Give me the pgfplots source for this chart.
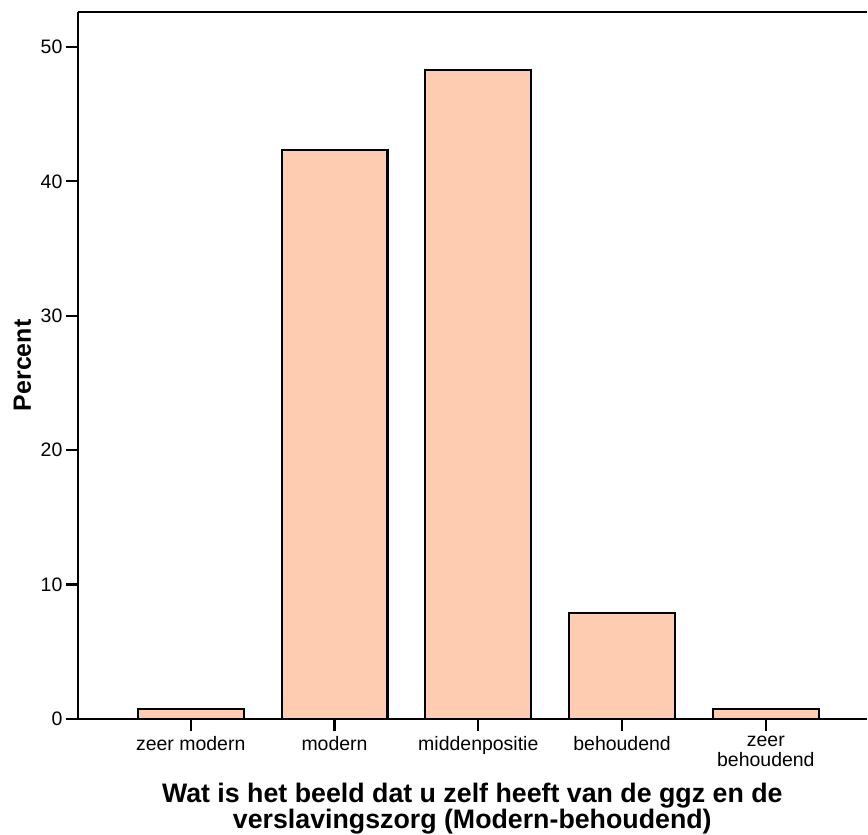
\documentclass[border=0pt]{standalone}
\usepackage{pgfplots}
\pgfplotsset{compat=1.18}
\usepackage{fontspec}
\setmainfont{Liberation Sans}
\definecolor{barfill}{RGB}{254,204,176}
\begin{document}
\begin{tikzpicture}
\begin{axis}[
  scale only axis,
  width=790pt, height=708pt,
  xmin=-0.785, xmax=4.701,
  ymin=0, ymax=52.6,
  axis x line*=bottom, axis y line*=left,
  axis line style={line width=2.7pt, black},
  tick align=outside,
  major tick length=12pt,
  tick style={line width=2.2pt, black},
  xtick={0,1,2,3,4},
  xticklabels={zeer modern, modern, middenpositie, behoudend, {zeer\\behoudend}},
  ytick={0,10,20,30,40,50},
  /pgf/number format/assume math mode=true,
  ticklabel style={font=\fontsize{19.5}{20}\selectfont},
  xticklabel style={align=center, yshift=-2pt},
  ylabel={Percent},
  ylabel style={at={(axis description cs:0,0.5)}, anchor=center, yshift=55.5pt,
    font=\fontsize{25}{26}\selectfont\bfseries},
  xlabel={Wat is het beeld dat u zelf heeft van de ggz en de\\verslavingszorg (Modern-behoudend)},
  xlabel style={at={(axis description cs:0.5,0)}, anchor=north, inner sep=0pt,
    yshift=-64.5pt, align=center, font=\fontsize{26.8}{24}\selectfont\bfseries},
  clip=false,
]
\addplot[ybar, bar width=106pt, fill=barfill, draw=black, line width=2.2pt]
  coordinates {(0,0.74) (1,42.35) (2,48.3) (3,7.85) (4,0.74)};
\draw[line width=2.7pt, black] (rel axis cs:0,1) -- (rel axis cs:1,1);
\path ([xshift=-78pt,yshift=12pt]rel axis cs:0,1) ([yshift=-114pt]rel axis cs:1,0);
\end{axis}
\end{tikzpicture}
\end{document}
